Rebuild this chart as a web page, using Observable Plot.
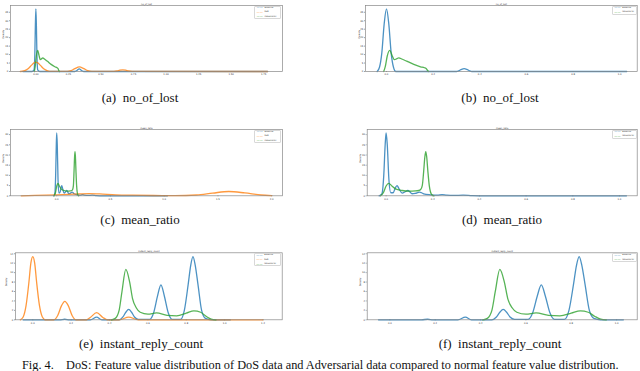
<!DOCTYPE html>
<html><head><meta charset="utf-8">
<script src="https://cdn.jsdelivr.net/npm/d3@7"></script>
<script src="https://cdn.jsdelivr.net/npm/@observablehq/plot@0.6"></script>
<style>
body{margin:0;background:#fff;}
#fig{position:relative;width:640px;height:371px;overflow:hidden;background:#fff;}
.panel{position:absolute;}
.cap{position:absolute;font-family:"Liberation Serif","Times New Roman",serif;font-size:13px;line-height:1;color:#111;white-space:nowrap;transform:translateX(-50%);}
.leg{position:absolute;border:0.5px solid #d8d8d8;border-radius:1px;box-sizing:border-box;}
#figcap{position:absolute;left:22px;top:358.5px;font-family:"Liberation Serif","Times New Roman",serif;font-size:12.3px;line-height:1;color:#111;white-space:nowrap;}
</style></head><body><div id="fig"></div>
<script>
// ---------- series names and colours ----------
const seriesNames = ["Baseline", "DoS", "Adversarial"];
const seriesColors = ["#1f77b4", "#ff7f0e", "#2ca02c"];

// ---------- no_of_lost ----------
const lostTicksA = [0, 0.25, 0.5, 0.75, 1, 1.25, 1.5, 1.75];
const lostTicksB = [0, 0.2, 0.4, 0.6, 0.8, 1.0];
const lostYTicks = [0, 5, 10, 15, 20, 25, 30, 35];
const lostBaselineA = [[-0.1,0],[-0.03,0],[-0.014,1],[-0.008,10],[-0.004,27],[0,37],[0.004,27],[0.008,10],[0.014,1],[0.03,0],[0.3,0],[0.315,0.6],[0.333,1.6],[0.351,0.6],[0.366,0],[1.78,0]];
const lostBaselineB = [[-0.04,0],[-0.03,2.5],[-0.02,11],[-0.01,28],[0,37],[0.01,28],[0.02,11],[0.03,2.5],[0.04,0],[0.3,0],[0.31,0.4],[0.322,1.3],[0.333,1.7],[0.344,1.3],[0.356,0.4],[0.366,0],[1.03,0]];
const lostDos = [[-0.12,0],[-0.09,0.4],[-0.06,1.6],[-0.035,3.6],[-0.015,5.1],[0,5.5],[0.015,5.1],[0.035,3.6],[0.06,1.6],[0.09,0.4],[0.12,0.05],[0.24,0.05],[0.27,0.5],[0.3,1.7],[0.334,2.7],[0.368,1.7],[0.398,0.5],[0.43,0.05],[0.6,0.05],[0.625,0.35],[0.645,0.8],[0.667,1.0],[0.69,0.8],[0.71,0.35],[0.74,0.05],[1.78,0]];
const lostAdv = [[-0.012,0],[-0.005,3],[0.003,9],[0.014,12.5],[0.024,9.5],[0.034,7],[0.045,7.6],[0.053,8.1],[0.065,7.4],[0.089,6],[0.117,4.2],[0.146,2.8],[0.163,2.2],[0.171,1.6],[0.176,0.6],[0.181,0]];

// ---------- mean_ratio ----------
const meanTicksC = [0, 0.5, 1.0, 1.5, 2.0];
const meanTicksD = [0, 0.2, 0.4, 0.6, 0.8, 1.0];
const meanYTicks = [0, 5, 10, 15, 20, 25, 30];
const meanBaseline = [[-0.03,0],[-0.018,1],[-0.01,10],[-0.004,25],[0,30.8],[0.005,25],[0.012,8],[0.02,1.5],[0.03,1.5],[0.04,4],[0.047,5],[0.055,3.5],[0.069,1.3],[0.082,2],[0.093,2.6],[0.103,1.8],[0.111,1],[0.125,1.2],[0.143,1.8],[0.152,1.5],[0.161,1],[0.19,0.5],[0.22,0.3],[0.24,0.6],[0.26,0.3],[0.29,0.2],[0.33,0.3],[0.37,0.05],[0.4,0],[1.03,0]];
const meanDos = [[-0.33,0],[-0.2,0.2],[0,0.5],[0.2,0.9],[0.3,1.1],[0.4,0.9],[0.55,0.5],[0.7,0.3],[0.9,0.15],[1.1,0.1],[1.3,0.4],[1.45,1.3],[1.6,2.1],[1.75,1.4],[1.9,0.4],[2.0,0.1]];
const meanAdv = [[-0.024,0],[-0.012,1.5],[0,4.8],[0.011,6.1],[0.025,4.8],[0.04,3.4],[0.069,2.6],[0.097,2.3],[0.126,2.4],[0.14,2.6],[0.148,3.1],[0.155,5],[0.161,12],[0.166,19],[0.17,21.6],[0.174,19],[0.179,12],[0.185,5],[0.19,2],[0.196,0.5],[0.205,0]];

// ---------- instant_reply_count ----------
const replyTicksE = [0, 0.2, 0.4, 0.6, 0.8, 1.0, 1.2];
const replyTicksF = [0, 0.2, 0.4, 0.6, 0.8, 1.0];
const replyYTicks = [0, 2, 4, 6, 8, 10, 12, 14];
const replyDos = [[-0.065,0],[-0.05,0.6],[-0.035,3],[-0.02,8],[-0.01,12],[0,13.4],[0.01,12],[0.02,8],[0.035,3],[0.05,0.6],[0.065,0],[0.11,0],[0.13,0.9],[0.15,3],[0.167,3.9],[0.185,3],[0.205,0.9],[0.225,0],[0.28,0],[0.3,0.5],[0.333,1.5],[0.365,0.5],[0.39,0],[0.45,0],[0.5,0.55],[0.55,0],[1.2,0]];
const replyBaseline = [[-0.05,0],[0.14,0],[0.167,0.12],[0.19,0],[0.3,0],[0.333,0.55],[0.36,0],[0.45,0],[0.47,0.6],[0.485,1.6],[0.5,2.2],[0.515,1.6],[0.53,0.6],[0.55,0.1],[0.61,0.1],[0.63,1.5],[0.65,5],[0.668,7.4],[0.686,5],[0.706,1.5],[0.726,0.1],[0.77,0.1],[0.79,2],[0.81,7.5],[0.823,11.5],[0.835,13.4],[0.847,11.5],[0.861,7.5],[0.88,2],[0.9,0.3],[0.93,0],[1.03,0]];
const replyAdv = [[0.41,0],[0.43,0.3],[0.45,2],[0.465,6],[0.485,10.7],[0.505,8],[0.52,4.5],[0.54,2.5],[0.56,1.6],[0.6,1.2],[0.645,1.45],[0.7,0.95],[0.75,0.85],[0.8,1.4],[0.84,1.9],[0.875,1.6],[0.905,0.7],[0.93,0.15],[0.955,0]];

const fig = document.getElementById("fig");

function fmtFixed(n) { return d => d.toFixed(n); }

function panel(cfg) {
  const marks = [
    Plot.axisX(cfg.xTicks, {tickSize: 1, tickPadding: 1.2, fontSize: 2.4, tickFormat: cfg.xFmt, stroke: "#444", fill: "#333", strokeWidth: 0.5, label: null}),
    Plot.axisY(cfg.yTicks, {tickSize: 1, tickPadding: 1.2, fontSize: 2.4, stroke: "#444", fill: "#333", strokeWidth: 0.5, label: null}),
  ];
  cfg.series.forEach(s => {
    marks.push(Plot.line(s.data, {x: d => d[0], y: d => d[1], stroke: seriesColors[s.k], strokeWidth: 1.3, strokeOpacity: 0.8, curve: "monotone-x"}));
  });
  marks.push(Plot.frame({stroke: "#888", strokeWidth: 0.7}));
  marks.push(Plot.text([cfg.title], {text: d => d, frameAnchor: "top", lineAnchor: "bottom", dy: -1, fontSize: 2.2, fill: "#333"}));
  marks.push(Plot.text(["Density"], {text: d => d, frameAnchor: "left", rotate: -90, dx: cfg.dLab, fontSize: 2.3, fill: "#333"}));
  cfg.series.forEach((s, i) => {
    marks.push(Plot.text(["\u2014\u2014"], {text: d => d, frameAnchor: "top-right", textAnchor: "start", lineAnchor: "middle", dx: cfg.legDx, dy: 1.9 + i * 4.4, fontSize: 3.2, fill: seriesColors[s.k]}));
    marks.push(Plot.text([seriesNames[s.k]], {text: d => d, frameAnchor: "top-right", textAnchor: "start", lineAnchor: "middle", dx: cfg.legDx + 8, dy: 1.9 + i * 4.4, fontSize: 2.1, fill: "#333"}));
  });
  const p = Plot.plot({
    width: 320, height: 110,
    marginLeft: cfg.ml, marginRight: cfg.mr, marginTop: cfg.mt, marginBottom: cfg.mb,
    x: {domain: cfg.xDomain},
    y: {domain: cfg.yDomain},
    style: {background: "transparent", fontFamily: "DejaVu Sans", overflow: "visible"},
    marks
  });
  p.classList.add("panel");
  p.style.left = cfg.left + "px";
  p.style.top = cfg.top + "px";
  fig.appendChild(p);
}

panel({left: 0, top: 0, ml: 10, mr: 38, mt: 5, mb: 39, xDomain: [-0.195, 1.895], yDomain: [0, 39],
  xTicks: lostTicksA, xFmt: fmtFixed(2), yTicks: lostYTicks, title: "no_of_lost", dLab: -7.5, legDx: -26,
  series: [{k: 0, data: lostBaselineA}, {k: 1, data: lostDos}, {k: 2, data: lostAdv}]});
panel({left: 320, top: 0, ml: 45, mr: 3.3, mt: 5, mb: 39, xDomain: [-0.09, 1.075], yDomain: [0, 39],
  xTicks: lostTicksB, xFmt: fmtFixed(1), yTicks: lostYTicks, title: "no_of_lost", dLab: -6, legDx: -23,
  series: [{k: 0, data: lostBaselineB}, {k: 2, data: lostAdv}]});
panel({left: 0, top: 120, ml: 10, mr: 38, mt: 9, mb: 34.7, xDomain: [-0.43, 2.1], yDomain: [0, 32.5],
  xTicks: meanTicksC, xFmt: fmtFixed(1), yTicks: meanYTicks, title: "mean_ratio", dLab: -7.5, legDx: -26,
  series: [{k: 0, data: meanBaseline}, {k: 1, data: meanDos}, {k: 2, data: meanAdv}]});
panel({left: 320, top: 120, ml: 46.7, mr: 3.3, mt: 9, mb: 34.7, xDomain: [-0.081, 1.076], yDomain: [0, 32.5],
  xTicks: meanTicksD, xFmt: fmtFixed(1), yTicks: meanYTicks, title: "mean_ratio", dLab: -7, legDx: -23,
  series: [{k: 0, data: meanBaseline}, {k: 2, data: meanAdv}]});
panel({left: 0, top: 235, ml: 15, mr: 38.3, mt: 17.3, mb: 25.7, xDomain: [-0.09, 1.30], yDomain: [0, 14.2],
  xTicks: replyTicksE, xFmt: fmtFixed(1), yTicks: replyYTicks, title: "instant_reply_count", dLab: -9, legDx: -26,
  series: [{k: 0, data: replyBaseline}, {k: 1, data: replyDos}, {k: 2, data: replyAdv}]});
panel({left: 320, top: 235, ml: 46.7, mr: 3.3, mt: 17.3, mb: 25.7, xDomain: [-0.1, 1.091], yDomain: [0, 14.2],
  xTicks: replyTicksF, xFmt: fmtFixed(1), yTicks: replyYTicks, title: "instant_reply_count", dLab: -7, legDx: -23,
  series: [{k: 0, data: replyBaseline}, {k: 2, data: replyAdv}]});

// legend boxes
[[254, 5.6, 27, 13.2], [612, 5.6, 24.5, 9], [254, 129.6, 27, 13.2], [612, 129.6, 24.5, 9], [254, 253, 27, 13.2], [612, 253, 24.5, 9]].forEach(b => {
  const d = document.createElement("div");
  d.className = "leg";
  d.style.left = b[0] + "px"; d.style.top = b[1] + "px"; d.style.width = b[2] + "px"; d.style.height = b[3] + "px";
  fig.appendChild(d);
});

// sub-captions
const subCaptions = [["(a)\u2002no_of_lost", 140, 91], ["(b)\u2002no_of_lost", 500, 91], ["(c)\u2002mean_ratio", 140, 213], ["(d)\u2002mean_ratio", 502, 213], ["(e)\u2002instant_reply_count", 141, 337], ["(f)\u2002instant_reply_count", 500, 337]];
subCaptions.forEach(c => {
  const d = document.createElement("div");
  d.className = "cap";
  d.textContent = c[0];
  d.style.left = c[1] + "px"; d.style.top = c[2] + "px";
  fig.appendChild(d);
});
const fc = document.createElement("div");
fc.id = "figcap";
fc.textContent = "Fig. 4.\u2003DoS: Feature value distribution of DoS data and Adversarial data compared to normal feature value distribution.";
fig.appendChild(fc);
</script>
</body></html>
